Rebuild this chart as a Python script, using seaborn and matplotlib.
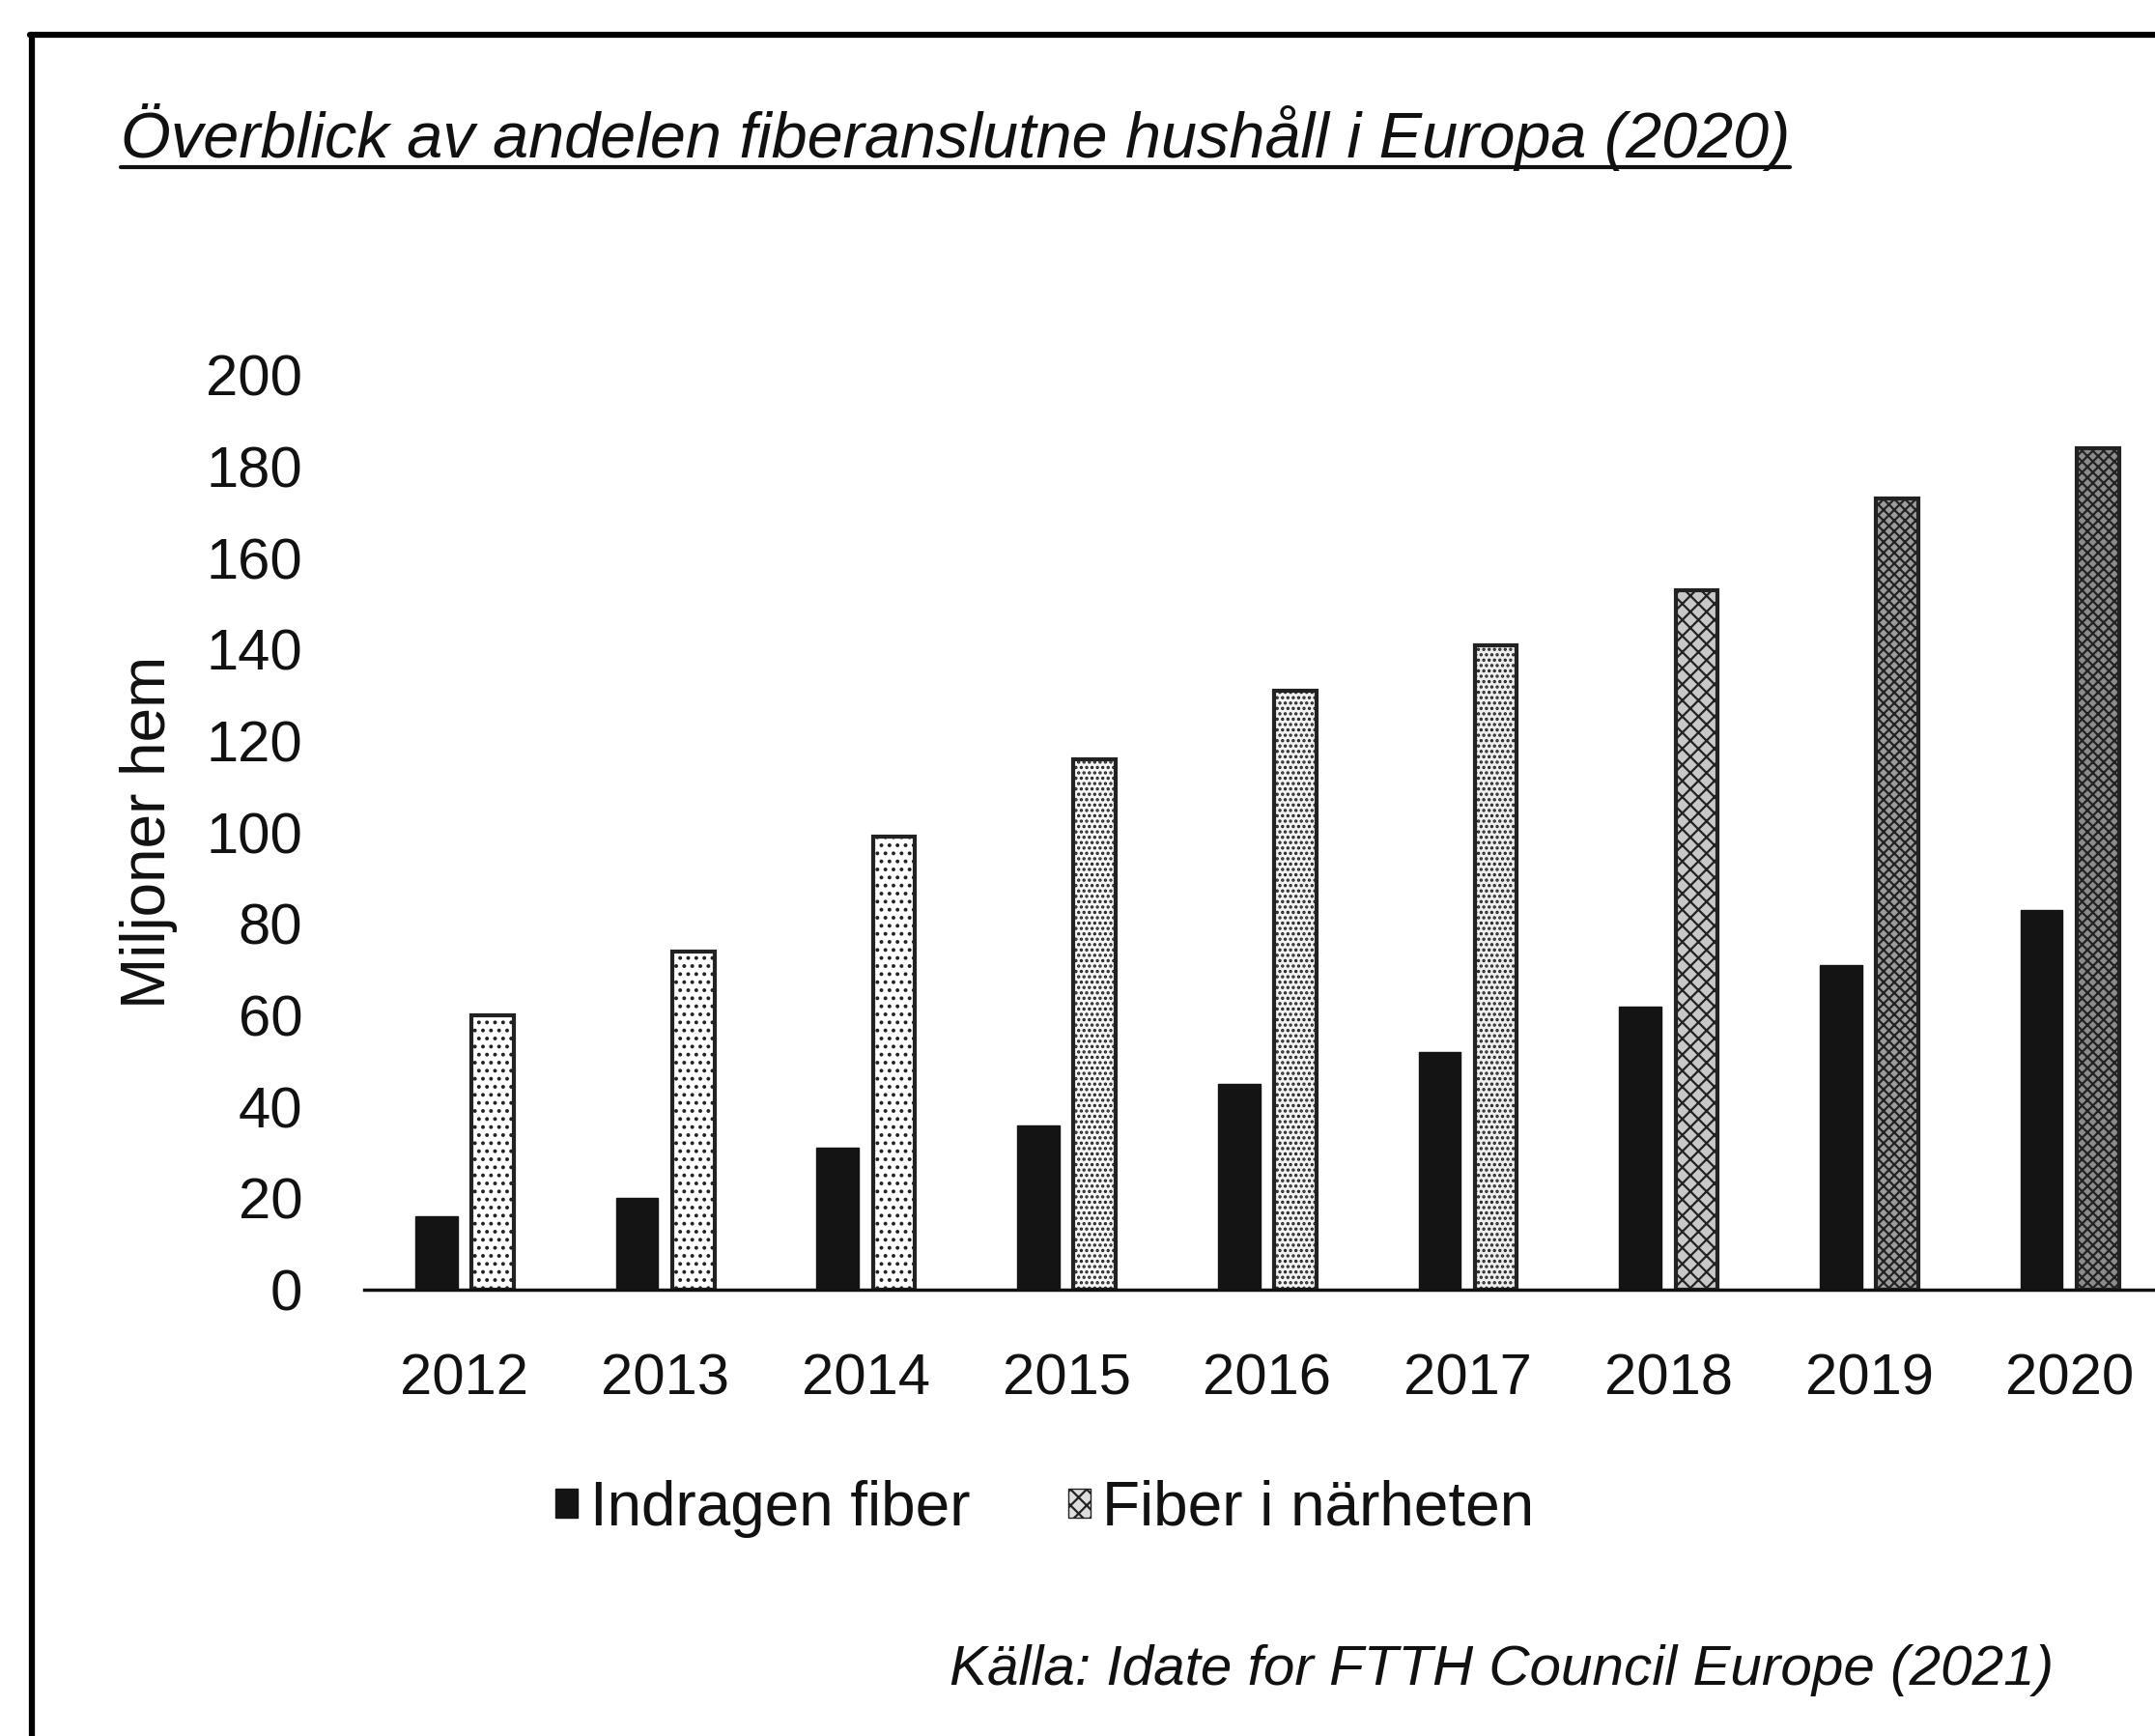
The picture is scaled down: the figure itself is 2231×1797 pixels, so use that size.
import matplotlib
matplotlib.use('Agg')
import matplotlib.pyplot as plt
from matplotlib.lines import Line2D
from matplotlib.patches import Patch
import pandas as pd
import seaborn as sns

# chart data
years = ['2012', '2013', '2014', '2015', '2016', '2017', '2018', '2019', '2020']
indragen_fiber = [16, 20, 31, 36, 45, 52, 62, 71, 83]
fiber_i_narheten = [60, 74, 99, 116, 131, 141, 153, 173, 184]
series_names = ['Indragen fiber', 'Fiber i närheten']
y_ticks = [0, 20, 40, 60, 80, 100, 120, 140, 160, 180, 200]

title_text = 'Överblick av andelen fiberanslutne hushåll i Europa (2020)'
source_text = 'Källa: Idate for FTTH Council Europe (2021)'
y_label = 'Miljoner hem'

df = pd.DataFrame({
    'year': years * 2,
    'value': indragen_fiber + fiber_i_narheten,
    'series': [series_names[0]] * len(years) + [series_names[1]] * len(years),
})

sns.set_theme(style='white')
plt.rcParams['font.family'] = ['Liberation Sans', 'DejaVu Sans']
plt.rcParams['hatch.linewidth'] = 1.6

fig = plt.figure(figsize=(22.31, 17.97), dpi=100)
fig.patch.set_facecolor('white')
ax = fig.add_axes([0.169, 0.257, 0.838, 0.527])

palette = {series_names[0]: '#141414', series_names[1]: 'white'}
sns.barplot(data=df, x='year', y='value', hue='series', order=years,
            hue_order=series_names, palette=palette, saturation=1,
            width=0.56, gap=0.25, ax=ax)

# dark bars plain, light bars outlined with a scan-like texture getting denser
for bar in ax.containers[0]:
    bar.set_edgecolor('#141414')
    bar.set_linewidth(1)
light_faces = ['white', 'white', 'white', '#f6f6f6', '#f2f2f2', '#eeeeee',
               '#c8c8c8', '#9c9c9c', '#8c8c8c']
light_hatch = ['..', '..', '..', '...', '...', '...', 'xx', 'xxx', 'xxx']
for bar, fc, h in zip(ax.containers[1], light_faces, light_hatch):
    bar.set_facecolor(fc)
    bar.set_edgecolor('#222222')
    bar.set_hatch(h)
    bar.set_linewidth(3)

ax.set_ylim(0, 200)
ax.set_yticks(y_ticks)
ax.set_yticklabels([str(t) for t in y_ticks])
ax.set_xlabel('')
ax.set_ylabel(y_label, fontsize=46, color='#111111')
ax.yaxis.set_label_coords(-0.103, 0.5)
ax.tick_params(axis='both', length=0, labelsize=43, colors='#111111')
ax.tick_params(axis='y', pad=46)
ax.tick_params(axis='x', pad=47)
for side in ['top', 'right', 'left']:
    ax.spines[side].set_visible(False)
ax.spines['bottom'].set_color('#111111')
ax.spines['bottom'].set_linewidth(2.5)
ax.grid(False)

# legend below the plot
ax.get_legend().remove()
handles = [Patch(facecolor='#141414', edgecolor='#141414'),
           Patch(facecolor='#dddddd', edgecolor='#222222', hatch='xx')]
fig.legend(handles, series_names, loc='center', bbox_to_anchor=(0.485, 0.131),
           ncol=2, frameon=False, fontsize=46, handlelength=0.35,
           handleheight=0.35, handletextpad=0.2, columnspacing=1.6,
           labelcolor='#111111')

# underlined italic title
title = fig.text(0.056, 0.921, title_text, fontsize=48, style='italic',
                 family=['Liberation Sans Narrow', 'Liberation Sans', 'DejaVu Sans'],
                 ha='left', va='center', color='#111111')
fig.canvas.draw()
bb = title.get_window_extent().transformed(fig.transFigure.inverted())
fig.add_artist(Line2D([bb.x0, bb.x1], [bb.y0 + 0.002, bb.y0 + 0.002],
                      transform=fig.transFigure, color='#111111', lw=3))

fig.text(0.953, 0.038, source_text, fontsize=42, style='italic',
         family=['Liberation Sans Narrow', 'Liberation Sans', 'DejaVu Sans'],
         ha='right', va='center', color='#111111')

# frame lines of the scanned page (top and left)
fig.add_artist(Line2D([0.014, 1.0], [0.980, 0.980], transform=fig.transFigure,
                      color='black', lw=4.5))
fig.add_artist(Line2D([0.015, 0.015], [0.0, 0.980], transform=fig.transFigure,
                      color='black', lw=4.5))

fig.savefig('out.png', dpi=100, facecolor='white')
plt.close(fig)
